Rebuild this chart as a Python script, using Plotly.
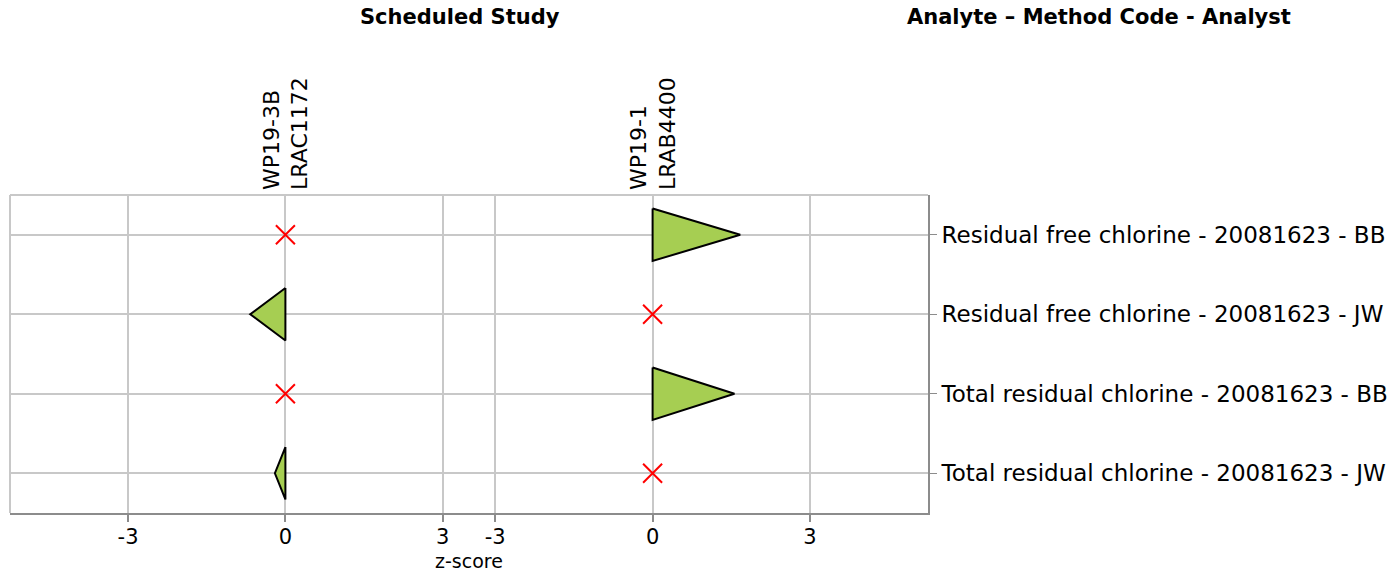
import plotly.graph_objects as go

# z-scores per analyte (rows) for each scheduled study (columns); None = not reported
analytes = [
    "Residual free chlorine - 20081623 - BB",
    "Residual free chlorine - 20081623 - JW",
    "Total residual chlorine - 20081623 - BB",
    "Total residual chlorine - 20081623 - JW",
]
studies = ["WP19-3B<br>LRAC1172", "WP19-1<br>LRAB4400"]
z_wp19_3b = [None, -0.67, None, -0.20]
z_wp19_1 = [1.67, None, 1.56, None]
x_ticks = [-3, 0, 3]

FONT = "DejaVu Sans"
GRID = "#c8c8c8"
AXIS = "#8c8c8c"
GREEN = "#a6ce52"
HALF = 0.33  # half-height of a triangle in row units

W, H = 1392, 573
L, R, T, B = 10, 464, 195, 60

fig = go.Figure()

panels = [("x", "y", z_wp19_3b), ("x2", "y2", z_wp19_1)]
for xa, ya, zs in panels:
    tx, ty, mx, my = [], [], [], []
    for i, z in enumerate(zs):
        if z is None:
            mx.append(0)
            my.append(i)
        else:
            tx += [0, z, 0, 0, None]
            ty += [i - HALF, i, i + HALF, i - HALF, None]
    fig.add_trace(go.Scatter(
        x=tx, y=ty, xaxis=xa, yaxis=ya, mode="lines", fill="toself",
        fillcolor=GREEN, line=dict(color="black", width=2),
        showlegend=False, hoverinfo="skip"))
    fig.add_trace(go.Scatter(
        x=mx, y=my, xaxis=xa, yaxis=ya, mode="markers",
        marker=dict(symbol="x-thin", size=19, line=dict(color="red", width=2)),
        showlegend=False, hoverinfo="skip"))

xcommon = dict(
    tickvals=x_ticks, ticktext=[str(t) for t in x_ticks],
    showgrid=True, gridcolor=GRID, gridwidth=2, zeroline=False,
    showline=True, linecolor=AXIS, linewidth=2,
    ticks="outside", ticklen=7, tickwidth=2, tickcolor=AXIS,
    ticklabelstandoff=-3,
    tickfont=dict(family=FONT, size=21, color="black"),
    fixedrange=True, automargin=False,
)
ycommon = dict(
    range=[len(analytes) - 0.5, -0.5],
    tickvals=list(range(len(analytes))),
    showgrid=True, gridcolor=GRID, gridwidth=2, zeroline=False,
    fixedrange=True, automargin=False,
)

fig.update_layout(
    width=W, height=H,
    margin=dict(l=L, r=R, t=T, b=B),
    plot_bgcolor="white", paper_bgcolor="white",
    xaxis=dict(domain=[0, 0.5], range=[-5.25, 3.5], anchor="y", **xcommon),
    xaxis2=dict(domain=[0.5, 1], range=[-3.5, 5.25], anchor="y2", **xcommon),
    yaxis=dict(anchor="x", showticklabels=False, ticks="", showline=False, **ycommon),
    yaxis2=dict(
        anchor="x2", side="right", ticktext=analytes,
        showline=True, linecolor=AXIS, linewidth=2,
        ticks="outside", ticklen=7, tickwidth=1, tickcolor=AXIS,
        tickfont=dict(family=FONT, size=23, color="black"),
        **ycommon),
)

# light frame on top and left edges
fig.add_shape(type="line", xref="paper", yref="paper", x0=0, x1=1, y0=1, y1=1,
              line=dict(color=GRID, width=2))
fig.add_shape(type="line", xref="paper", yref="paper", x0=0, x1=0, y0=0, y1=1,
              line=dict(color=GRID, width=2))

# study labels above each panel
for xa, label in zip(["x", "x2"], studies):
    fig.add_annotation(
        x=0, xref=xa, y=1, yref="paper", yshift=3,
        text=label, textangle=-90, showarrow=False,
        xanchor="center", yanchor="bottom", align="left",
        font=dict(family=FONT, size=22, color="black"))

pw = (W - L - R)
ph = (H - T - B)
def px_x(p):
    return (p - L) / pw
def px_y(p):
    return (H - B - p) / ph

fig.add_annotation(x=px_x(460), y=px_y(17), xref="paper", yref="paper",
                   text="<b>Scheduled Study</b>", showarrow=False,
                   xanchor="center", yanchor="middle",
                   font=dict(family=FONT, size=21, color="black"))
fig.add_annotation(x=px_x(1099), y=px_y(17), xref="paper", yref="paper",
                   text="<b>Analyte \u2013 Method Code - Analyst</b>", showarrow=False,
                   xanchor="center", yanchor="middle",
                   font=dict(family=FONT, size=21, color="black"))
fig.add_annotation(x=0.5, y=px_y(573), xref="paper", yref="paper",
                   text="z-score", showarrow=False, borderpad=0,
                   xanchor="center", yanchor="bottom",
                   font=dict(family=FONT, size=19, color="black"))

fig.write_html("out.html")
